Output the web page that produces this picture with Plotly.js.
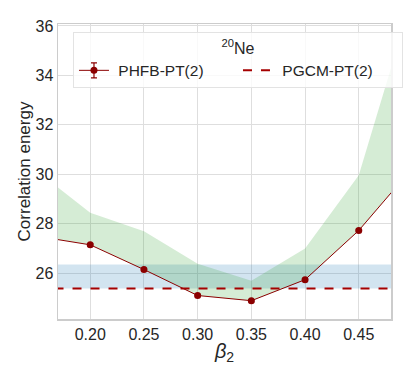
<!DOCTYPE html>
<html>
<head>
<meta charset="utf-8">
<script src="https://cdn.plot.ly/plotly-3.0.1.min.js"></script>
<style>
  html, body { margin: 0; padding: 0; background: #fff; }
</style>
</head>
<body>
<div id="grafica" style="width:415px;height:378px;"></div>
<script>
// deformacion beta_2 y energias de correlacion
var betas = [0.15, 0.20, 0.25, 0.30, 0.35, 0.40, 0.45, 0.50];
var phfbEnergia = [27.5, 27.15, 26.15, 25.1, 24.89, 25.74, 27.73, 30.26];
var phfbError = [0.05, 0.05, 0.05, 0.05, 0.05, 0.05, 0.05, 0.05];
var bandaSuperior = [30.15, 28.45, 27.7, 26.38, 25.7, 27.0, 29.96, 37.2];
var pgcmX = [0.15, 0.50];
var pgcmEnergia = [25.38, 25.38];
var pgcmSuperior = [26.35, 26.35];

var rojo = '#8b0000';

var data = [
  {x: pgcmX, y: pgcmEnergia, mode: 'lines', line: {width: 0}, showlegend: false, hoverinfo: 'skip'},
  {x: pgcmX, y: pgcmSuperior, mode: 'lines', line: {width: 0}, fill: 'tonexty',
   fillcolor: 'rgba(31,119,180,0.2)', showlegend: false, hoverinfo: 'skip'},
  {x: betas, y: phfbEnergia, mode: 'lines', line: {width: 0}, showlegend: false, hoverinfo: 'skip'},
  {x: betas, y: bandaSuperior, mode: 'lines', line: {width: 0}, fill: 'tonexty',
   fillcolor: 'rgba(44,160,44,0.2)', showlegend: false, hoverinfo: 'skip'},
  {
    x: betas, y: phfbEnergia, mode: 'lines+markers', name: '\u00a0PHFB-PT(2)',
    line: {color: rojo, width: 1},
    marker: {color: rojo, size: 7},
    error_y: {type: 'data', array: phfbError, color: rojo, thickness: 1, width: 3}
  },
  {
    x: pgcmX, y: pgcmEnergia, mode: 'lines', name: '\u00a0PGCM-PT(2)',
    line: {color: '#a50000', width: 2, dash: 'dash'}
  }
];

var layout = {
  width: 415, height: 378,
  margin: {l: 58, r: 18, t: 24, b: 59},
  paper_bgcolor: '#fff', plot_bgcolor: '#fff',
  font: {family: 'Liberation Sans, Arial, sans-serif', color: '#262626', size: 16},
  xaxis: {
    range: [0.17, 0.48],
    tickvals: [0.20, 0.25, 0.30, 0.35, 0.40, 0.45],
    tickformat: '.2f',
    showgrid: true, gridcolor: '#dedede', gridwidth: 1,
    zeroline: false,
    showline: true, linecolor: '#cccccc', linewidth: 1.5, mirror: true,
    ticks: '', tickfont: {size: 16},
    title: {text: '<i>β</i><sub>2</sub>', font: {size: 20}, standoff: 2}
  },
  yaxis: {
    range: [24.15, 36.08],
    tickvals: [26, 28, 30, 32, 34, 36],
    showgrid: true, gridcolor: '#dedede', gridwidth: 1,
    zeroline: false,
    showline: true, linecolor: '#cccccc', linewidth: 1.5, mirror: true,
    ticks: '', tickfont: {size: 16},
    title: {text: 'Correlation energy', font: {size: 17}, standoff: 0}
  },
  legend: {
    x: 0.045, y: 0.973, xanchor: 'left', yanchor: 'top',
    orientation: 'h',
    traceorder: 'normal',
    entrywidth: 119,
    bgcolor: 'rgba(255,255,255,0.8)',
    bordercolor: '#e3e3e3', borderwidth: 1,
    font: {size: 15.5},
    title: {text: '<sup>20</sup>Ne', side: 'top center', font: {size: 16}}
  }
};

Plotly.newPlot('grafica', data, layout, {displayModeBar: false, staticPlot: true}).then(function () {
  // barra de error en el simbolo de la leyenda (como en matplotlib)
  var puntos = document.querySelector('.legend .traces .legendpoints');
  if (puntos) {
    var barra = document.createElementNS('http://www.w3.org/2000/svg', 'path');
    barra.setAttribute('d', 'M20,-7.5V7.5M17,-7.5H23M17,7.5H23');
    barra.setAttribute('stroke', rojo);
    barra.setAttribute('stroke-width', '1.2');
    barra.setAttribute('fill', 'none');
    puntos.appendChild(barra);
  }
});
</script>
</body>
</html>
